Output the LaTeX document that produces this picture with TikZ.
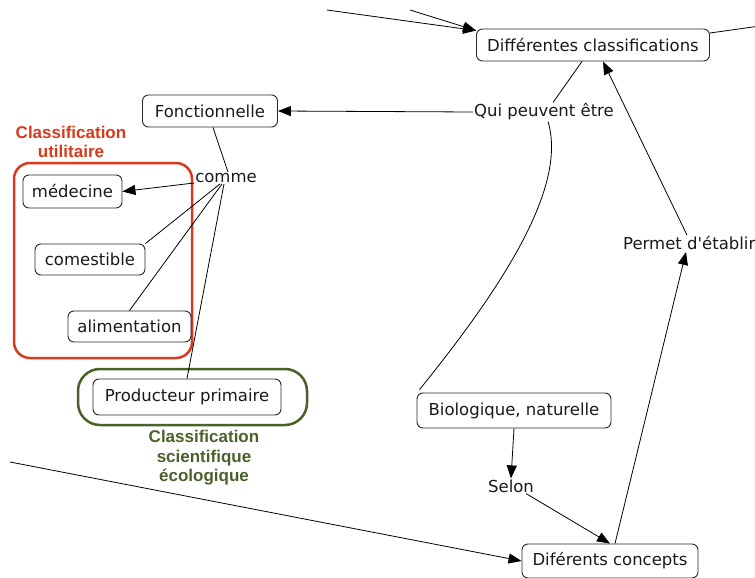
\documentclass[tikz,border=0pt]{standalone}
\usepackage{fontspec}
\setmainfont{DejaVu Sans}
\newfontfamily\labfont{Liberation Sans}
\usetikzlibrary{arrows.meta}
\definecolor{redbox}{RGB}{215,58,28}
\definecolor{greenbox}{RGB}{72,98,42}
\definecolor{linegray}{RGB}{40,40,40}
\begin{document}
\begin{tikzpicture}[x=1pt,y=-1pt,
  concept/.style={draw=linegray, line width=0.9pt, rounded corners=6pt, inner sep=0pt, font=\fontsize{16.5}{19}\selectfont, text=black!90},
  linktext/.style={inner sep=1pt, font=\fontsize{16.5}{19}\selectfont, text=black!90},
  conn/.style={draw=black, line width=0.8pt},
  arr/.style={conn, -{Triangle[length=13pt,width=10pt]}},
  grouplab/.style={font=\labfont\bfseries\fontsize{17}{19.5}\selectfont, align=center, inner sep=0pt}
]
\useasboundingbox (0,0) rectangle (755,578);
\clip (0,0) rectangle (755,578);

% group frames
\draw[redbox, line width=2.5pt, rounded corners=16pt] (14,163) rectangle (192,358);
\draw[greenbox, line width=2.5pt, rounded corners=22pt] (78,369) rectangle (307,425);
\node[grouplab, text=redbox] (redlab) at (71,142) {Classification\\utilitaire};
\node[grouplab, text=greenbox] (greenlab) at (204,458) {Classification\\scientifique\\écologique};

% concept boxes
\node[concept, minimum width=233pt, minimum height=32pt] (dc) at (593,45) {Différentes classifications};
\node[concept, minimum width=135pt, minimum height=32pt] (fonc) at (210,111) {Fonctionnelle};
\node[concept, minimum width=99pt, minimum height=33pt] (med) at (72.5,191.5) {médecine};
\node[concept, minimum width=110pt, minimum height=31pt] (com) at (90,259.5) {comestible};
\node[concept, minimum width=123pt, minimum height=31pt] (alim) at (129.5,326.5) {alimentation};
\node[concept, minimum width=188pt, minimum height=36pt] (prod) at (187,397) {Producteur primaire};
\node[concept, minimum width=194pt, minimum height=35pt] (bio) at (514,410.5) {Biologique, naturelle};
\node[concept, minimum width=176pt, minimum height=34pt] (conc) at (610,561) {Diférents concepts};

% linking phrases
\node[linktext] (qui) at (544,112) {Qui peuvent être};
\node[linktext] (comme) at (226,178) {comme};
\node[linktext] (selon) at (511,486) {Selon};
\node[linktext, anchor=west] (permet) at (622,243) {Permet d\textquotesingle établir};

% free ends
\coordinate (t1) at (327,10);
\coordinate (t2) at (410,10);
\coordinate (rt) at (760,26);
\coordinate (lft) at (10,462);

% connectors
\draw[arr] (t1) -- ([yshift=-2pt]dc.north west);
\draw[arr] (t2) -- ([yshift=-2pt]dc.north west);
\draw[conn] ([yshift=12pt]dc.east) -- (rt);
\draw[conn] ([xshift=-11pt]dc.south) -- ([xshift=9pt]qui.north);
\draw[arr] (qui.west) -- (fonc.east);
\draw[conn] ([xshift=3pt,yshift=3pt]bio.north west) .. controls (500,290) and (568,188) .. ([xshift=4pt]qui.south);
\draw[arr] ([xshift=65pt]permet.north west) -- ([xshift=10pt]dc.south);
\draw[arr] ([xshift=5pt]conc.north) -- ([xshift=64pt,yshift=-1pt]permet.south west);
\draw[arr] (bio.south) -- (selon.north);
\draw[arr] ([xshift=-9pt]selon.south east) -- (conc.north);
\draw[arr] (lft) -- (conc.west);
\draw[conn] ([xshift=3pt]fonc.south) -- ([xshift=2pt]comme.north);
\draw[arr] ([yshift=-5pt]comme.west) -- (med.east);
\draw[conn] ([xshift=-6pt]comme.south) -- (com.north east);
\draw[conn] ([xshift=-4pt]comme.south) -- (alim.north);
\draw[conn] ([xshift=-2pt]comme.south) -- (prod.north);
\end{tikzpicture}
\end{document}
